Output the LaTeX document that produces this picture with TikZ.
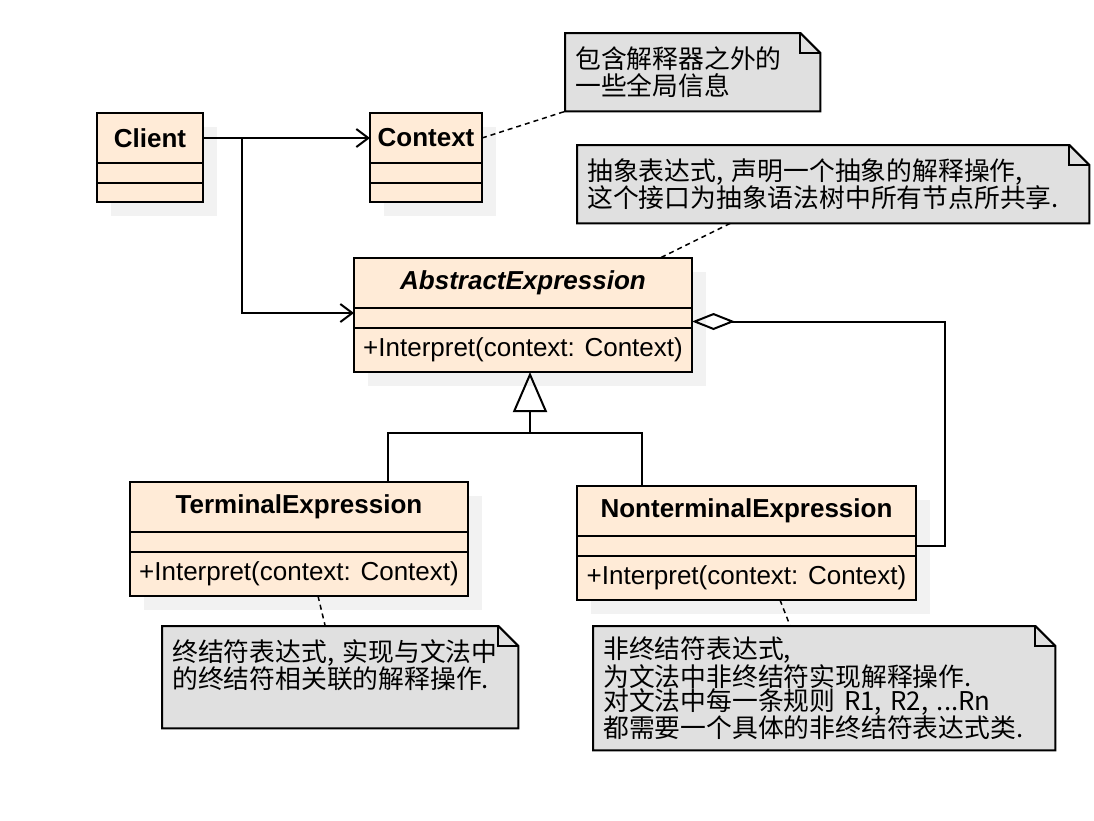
\documentclass[tikz,border=0pt]{standalone}
\usepackage{fontspec}
\setmainfont{Liberation Sans}
\newfontfamily\cjk{Noto Sans CJK SC}
\usepackage{xcolor}
\usetikzlibrary{arrows.meta,positioning,shadows,backgrounds}

\definecolor{clsfill}{RGB}{255,235,215}
\definecolor{notefill}{RGB}{224,224,224}
\definecolor{shadowgray}{RGB}{242,242,242}

\begin{document}
\begin{tikzpicture}[
  x=1pt, y=-1pt,
  cls/.style={draw, fill=clsfill, line width=2pt, outer sep=0pt, inner sep=0pt,
    drop shadow={shadow xshift=14pt, shadow yshift=-14pt, fill=shadowgray, opacity=1}},
  clshead/.style={cls, anchor=north, minimum height=50pt,
    font=\bfseries\fontsize{26}{30}\selectfont},
  clsattr/.style={cls, minimum height=20pt},
  clsop/.style={cls, minimum height=44pt, font=\fontsize{26}{30}\selectfont},
  note/.style={anchor=north west, inner xsep=10pt, inner ysep=0pt, align=left,
    font=\cjk\fontsize{25.8}{27}\selectfont},
  notebox/.style={fill=notefill, draw, line width=2pt, line join=miter},
  link/.style={line width=2pt},
  assoc/.style={link, -{Straight Barb[length=12pt,width=18pt]}},
  aggr/.style={link, {Diamond[open,length=43pt,width=17pt]}-},
  inherit/.style={link, -{Triangle[open,length=40pt,width=34pt]}},
  noteline/.style={line width=1.5pt, dash pattern=on 5pt off 4pt}
]
\useasboundingbox (0,0) rectangle (1094,820);

% classes
\node[clshead, minimum width=106pt] (client) at (150,113) {Client};
\node[clsattr, minimum width=106pt, below=0pt of client] (client-a) {};
\node[clsattr, minimum width=106pt, minimum height=19pt, below=0pt of client-a] (client-o) {};

\node[clshead, minimum width=112pt] (context) at (426,113) {Context};
\node[clsattr, minimum width=112pt, below=0pt of context] (context-a) {};
\node[clsattr, minimum width=112pt, minimum height=19pt, below=0pt of context-a] (context-o) {};

\node[clshead, minimum width=338pt, font={\bfseries\itshape\fontsize{26}{30}\selectfont}]
  (abstract) at (523,258) {AbstractExpression};
\node[clsattr, minimum width=338pt, below=0pt of abstract] (abstract-a) {};
\node[clsop, minimum width=338pt, below=0pt of abstract-a] (abstract-o) {+Interpret(context: Context)};

\node[clshead, minimum width=338pt] (terminal) at (299,482) {TerminalExpression};
\node[clsattr, minimum width=338pt, below=0pt of terminal] (terminal-a) {};
\node[clsop, minimum width=338pt, below=0pt of terminal-a] (terminal-o) {+Interpret(context: Context)};

\node[clshead, minimum width=339pt] (nonterm) at (746.5,486) {NonterminalExpression};
\node[clsattr, minimum width=339pt, below=0pt of nonterm] (nonterm-a) {};
\node[clsop, minimum width=339pt, below=0pt of nonterm-a] (nonterm-o) {+Interpret(context: Context)};

% notes
\node[note, text width=235pt, minimum height=78pt] (ctxnote) at (565,33)
  {包含解释器之外的\\一些全局信息};
\node[note, text width=492pt, minimum height=78pt] (absnote) at (577,145)
  {抽象表达式, 声明一个抽象的解释操作,\\这个接口为抽象语法树中所有节点所共享.};
\node[note, text width=336pt, minimum height=102pt] (termnote) at (162,626)
  {终结符表达式, 实现与文法中\\的终结符相关联的解释操作.\\~};
\node[note, text width=442pt, minimum height=124pt,
  font=\cjk\fontsize{25.8}{24}\selectfont] (ntnote) at (593,626)
  {非终结符表达式,\\为文法中非终结符实现解释操作.\\对文法中每一条规则 R1, R2, ...Rn\\都需要一个具体的非终结符表达式类.};

\begin{scope}[on background layer]
\foreach \n in {ctxnote,absnote,termnote,ntnote}{
  \filldraw[notebox] (\n.south west) -- (\n.north west) -- ([xshift=-20pt]\n.north east)
    -- ([yshift=-20pt]\n.north east) -- (\n.south east) -- cycle;
  \draw[notebox, fill=none] ([xshift=-20pt]\n.north east) |- ([yshift=-20pt]\n.north east);
}
\end{scope}

\coordinate (aggstart) at ([yshift=-3.5pt]abstract-a.east);
\coordinate (aggturn) at (945,0);
\coordinate (genjoin) at (530,433);

% connectors
\draw[assoc] (client.east) -- (context.west);
\draw[assoc] ([xshift=39pt]client.east) |- ([yshift=5pt]abstract-a.west);
\draw[aggr] (aggstart) -- (aggstart -| aggturn) |- (nonterm-a.east);
\draw[inherit] (genjoin) -- (genjoin |- abstract-o.south);
\draw[link] ([xshift=89pt]terminal.north) |- (genjoin) -| ([xshift=-104.5pt]nonterm.north);

\draw[noteline] (context.east) -- (ctxnote.south west);
\draw[noteline] ([xshift=-103pt]absnote.south) -- ([xshift=137pt]abstract.north);
\draw[noteline] ([xshift=19pt]terminal-o.south) -- ([xshift=-15pt]termnote.north);
\draw[noteline] ([xshift=33.5pt]nonterm-o.south) -- ([xshift=-34pt]ntnote.north);
\end{tikzpicture}
\end{document}
